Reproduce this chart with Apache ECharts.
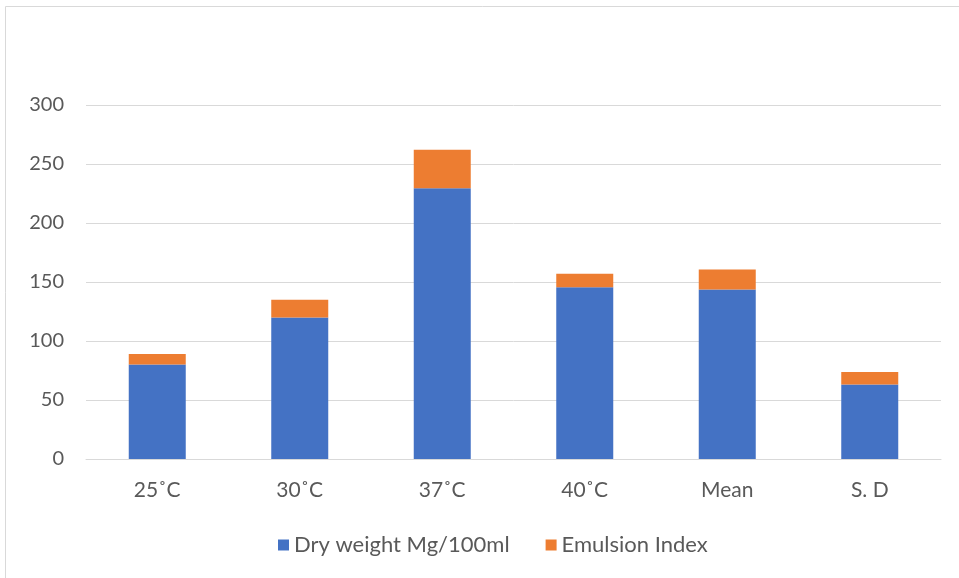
<!DOCTYPE html>
<html>
<head>
<meta charset="utf-8">
<script src="https://cdn.jsdelivr.net/npm/echarts@6/dist/echarts.min.js"></script>
<style>
  html, body { margin: 0; padding: 0; background: #fff; }
  #chart { width: 959px; height: 578px; }
</style>
</head>
<body>
<div id="chart"></div>
<script>
// Categories along the x axis
const categories = ['25˚C', '30˚C', '37˚C', '40˚C', 'Mean', 'S. D'];
// Stacked series values
const dryWeight = [80, 120, 229.5, 145.5, 143.6, 63.2];
const emulsionIndex = [9, 15, 32.5, 11.5, 17, 10.5];
// Series names
const seriesNames = ['Dry weight Mg/100ml', 'Emulsion Index'];

const textColor = '#595959';
const fontFamily = 'Lato, "Open Sans", sans-serif';

const chart = echarts.init(document.getElementById('chart'));
chart.setOption({
  animation: false,
  textStyle: { fontFamily: fontFamily },
  graphic: [{
    type: 'rect',
    shape: { x: 5.5, y: 6.5, width: 960, height: 580 },
    style: { fill: 'none', stroke: '#d9d9d9', lineWidth: 1 },
    silent: true
  }],
  grid: { left: 86, right: 18, top: 105, bottom: 119 },
  legend: {
    top: 529,
    left: 273,
    itemWidth: 11,
    itemHeight: 11,
    itemGap: 36,
    icon: 'rect',
    textStyle: { color: textColor, fontSize: 22, fontFamily: fontFamily },
    data: seriesNames
  },
  xAxis: {
    type: 'category',
    data: categories,
    axisLine: { lineStyle: { color: '#d9d9d9', width: 1 } },
    axisTick: { show: false },
    axisLabel: { color: textColor, fontSize: 21, margin: 21, fontFamily: fontFamily }
  },
  yAxis: {
    type: 'value',
    min: 0,
    max: 300,
    interval: 50,
    axisLine: { show: false },
    axisTick: { show: false },
    splitLine: { lineStyle: { color: '#d9d9d9', width: 1 } },
    axisLabel: { color: textColor, fontSize: 20, margin: 22, fontFamily: fontFamily }
  },
  series: [
    {
      name: seriesNames[0],
      type: 'bar',
      stack: 'total',
      data: dryWeight,
      barWidth: '40%',
      itemStyle: { color: '#4472c4' }
    },
    {
      name: seriesNames[1],
      type: 'bar',
      stack: 'total',
      data: emulsionIndex,
      barWidth: '40%',
      itemStyle: { color: '#ed7d31' }
    }
  ]
});
</script>
</body>
</html>
